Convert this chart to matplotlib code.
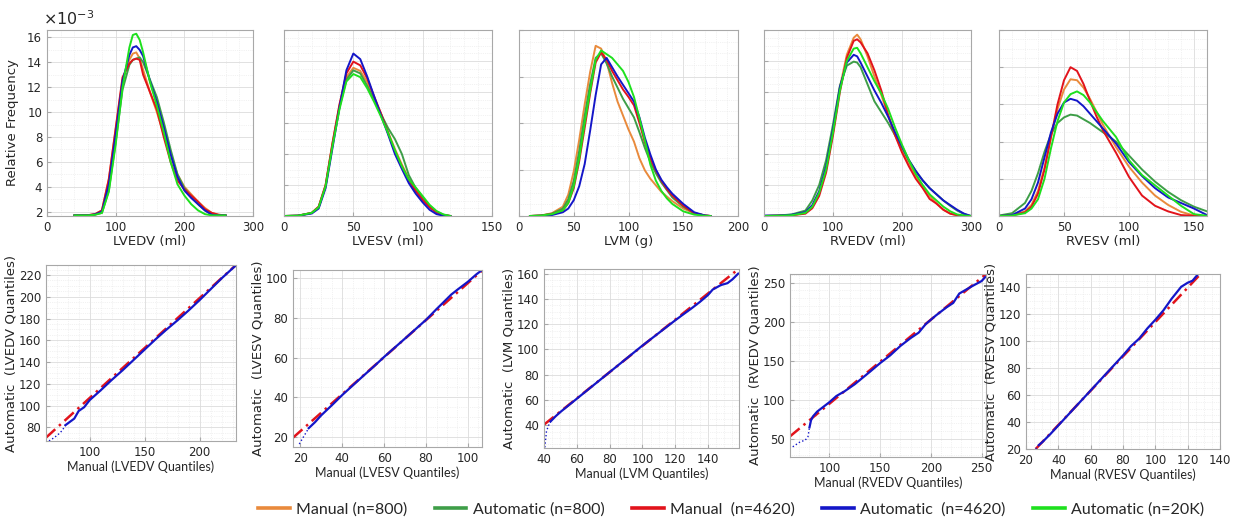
import matplotlib
matplotlib.use('Agg')
import matplotlib.pyplot as plt
from matplotlib.lines import Line2D
from matplotlib.ticker import MultipleLocator, AutoMinorLocator

# ---------------- data: top row (relative frequency, x1e-3) ----------------
series_labels = ['Manual (n=800)', 'Automatic (n=800)', 'Manual  (n=4620)',
                 'Automatic  (n=4620)', 'Automatic (n=20K)']
colors = ['#E98A3C', '#3E9E48', '#E2131B', '#1416C8', '#1EE01E']

lvedv_x = [40, 60, 70, 80, 90, 100, 110, 120, 125, 130, 135, 140, 150, 160, 170, 180, 190, 200, 210, 220, 230, 240, 250, 260]
lvedv_man800 = [1.7, 1.72, 1.8, 2.1, 4.6, 8.6, 12.6, 14.2, 14.7, 14.8, 14.3, 13.4, 11.6, 10.0, 8.2, 6.6, 5.0, 4.0, 3.4, 2.8, 2.3, 1.9, 1.75, 1.7]
lvedv_auto800 = [1.7, 1.7, 1.76, 1.9, 3.7, 7.6, 11.8, 13.8, 14.2, 14.3, 14.4, 14.0, 12.6, 11.2, 9.2, 7.0, 5.0, 3.9, 3.2, 2.6, 2.1, 1.8, 1.7, 1.7]
lvedv_man4620 = [1.7, 1.72, 1.8, 2.1, 4.6, 8.7, 12.8, 13.9, 14.2, 14.3, 14.2, 13.0, 11.6, 10.2, 8.0, 6.0, 4.5, 3.8, 3.3, 2.8, 2.2, 1.9, 1.75, 1.7]
lvedv_auto4620 = [1.7, 1.7, 1.78, 2.0, 4.2, 8.2, 12.5, 14.6, 15.2, 15.3, 15.0, 14.5, 12.5, 10.8, 8.8, 6.6, 4.8, 3.7, 3.1, 2.6, 2.1, 1.75, 1.7, 1.7]
lvedv_auto20k = [1.7, 1.7, 1.75, 1.9, 3.6, 7.4, 12.0, 15.2, 16.2, 16.3, 15.8, 14.8, 12.4, 10.5, 8.4, 6.0, 4.2, 3.3, 2.6, 2.1, 1.8, 1.7, 1.7, 1.7]

lvesv_x = [0, 10, 20, 25, 30, 35, 40, 45, 50, 55, 60, 65, 70, 75, 80, 85, 90, 95, 100, 105, 110, 115, 120]
lvesv_man800 = [0, 0.05, 0.5, 1.5, 5.0, 11.8, 17.8, 22.4, 23.9, 23.4, 21.6, 19.0, 16.5, 13.6, 10.8, 8.3, 6.0, 4.2, 2.7, 1.5, 0.6, 0.15, 0]
lvesv_auto800 = [0, 0.05, 0.5, 1.4, 4.8, 11.5, 17.5, 22.0, 23.5, 23.0, 21.0, 18.8, 16.4, 14.2, 12.4, 10.0, 6.6, 4.5, 3.0, 1.6, 0.7, 0.2, 0]
lvesv_man4620 = [0, 0.05, 0.5, 1.5, 5.0, 11.8, 18.0, 23.0, 24.9, 24.3, 22.2, 19.3, 16.5, 13.4, 10.4, 8.0, 5.8, 4.0, 2.6, 1.4, 0.6, 0.15, 0]
lvesv_auto4620 = [0, 0.05, 0.4, 1.2, 4.5, 11.0, 17.5, 23.5, 26.2, 25.3, 22.5, 19.3, 16.2, 13.2, 10.0, 7.6, 5.3, 3.6, 2.2, 1.0, 0.3, 0.05, 0]
lvesv_auto20k = [0, 0.05, 0.5, 1.4, 4.8, 11.3, 17.2, 21.7, 22.9, 22.4, 20.6, 18.4, 16.0, 13.4, 10.6, 8.0, 5.9, 4.6, 3.2, 1.8, 0.8, 0.25, 0]

lvm_x = [10, 20, 30, 40, 45, 50, 55, 60, 65, 70, 75, 80, 85, 90, 95, 100, 105, 110, 115, 120, 125, 130, 135, 140, 150, 160, 170, 175]
lvm_man800 = [0, 0.05, 0.3, 1.0, 2.3, 4.8, 8.2, 12.0, 15.5, 18.3, 18.0, 16.6, 14.3, 12.3, 10.8, 9.3, 8.0, 6.2, 4.9, 4.0, 3.3, 2.6, 2.1, 1.6, 0.8, 0.3, 0.05, 0]
lvm_auto800 = [0, 0.05, 0.25, 0.8, 1.8, 3.8, 7.0, 10.8, 14.2, 17.0, 17.5, 16.4, 15.0, 13.8, 12.6, 11.6, 10.6, 9.0, 7.3, 5.8, 4.6, 3.6, 2.8, 2.0, 1.0, 0.3, 0.05, 0]
lvm_man4620 = [0, 0.05, 0.2, 0.6, 1.4, 3.0, 5.9, 9.5, 13.2, 16.5, 17.6, 16.8, 15.6, 14.6, 13.6, 12.8, 11.9, 10.0, 7.9, 6.2, 4.9, 3.8, 2.9, 2.2, 1.1, 0.3, 0.05, 0]
lvm_auto4620 = [0, 0.02, 0.1, 0.4, 0.8, 1.7, 3.2, 5.6, 9.2, 13.0, 16.3, 17.0, 16.0, 15.0, 14.1, 13.2, 12.3, 10.6, 8.4, 6.6, 5.0, 3.9, 3.1, 2.4, 1.3, 0.4, 0.05, 0]
lvm_auto20k = [0, 0.05, 0.2, 0.6, 1.4, 3.2, 6.2, 10.0, 13.5, 16.8, 17.8, 17.4, 17.0, 16.3, 15.6, 14.4, 12.8, 10.5, 8.1, 5.5, 3.8, 2.7, 1.9, 1.3, 0.5, 0.15, 0.02, 0]

rvedv_x = [0, 20, 40, 60, 70, 80, 90, 100, 110, 120, 130, 135, 140, 150, 160, 170, 180, 190, 200, 210, 220, 230, 240, 250, 260, 270, 280, 290, 300]
rvedv_man800 = [0, 0.02, 0.05, 0.2, 0.6, 1.5, 3.0, 5.4, 8.3, 10.4, 11.5, 11.7, 11.4, 10.3, 9.0, 7.8, 6.5, 5.3, 4.2, 3.4, 2.6, 1.9, 1.3, 0.8, 0.4, 0.15, 0.05, 0, 0]
rvedv_auto800 = [0, 0.03, 0.1, 0.35, 1.0, 2.0, 3.6, 5.9, 8.4, 9.7, 9.96, 9.9, 9.6, 8.5, 7.4, 6.7, 6.0, 5.2, 4.4, 3.6, 2.9, 2.3, 1.8, 1.4, 1.0, 0.65, 0.35, 0.12, 0]
rvedv_man4620 = [0, 0.02, 0.05, 0.15, 0.5, 1.3, 2.8, 5.2, 8.0, 10.2, 11.3, 11.4, 11.2, 10.5, 9.4, 8.1, 6.5, 5.2, 4.1, 3.2, 2.4, 1.8, 1.1, 0.8, 0.4, 0.15, 0.05, 0, 0]
rvedv_auto4620 = [0.03, 0.03, 0.08, 0.25, 0.7, 1.6, 3.2, 5.6, 8.3, 9.9, 10.4, 10.3, 9.9, 9.0, 8.1, 7.3, 6.4, 5.4, 4.5, 3.6, 2.9, 2.3, 1.8, 1.4, 1.0, 0.7, 0.4, 0.15, 0]
rvedv_auto20k = [0, 0.02, 0.05, 0.2, 0.6, 1.5, 3.0, 5.4, 8.1, 10.0, 10.8, 10.85, 10.5, 9.6, 8.7, 7.9, 6.9, 5.7, 4.6, 3.6, 2.7, 2.0, 1.4, 1.0, 0.6, 0.3, 0.1, 0.03, 0]

rvesv_x = [0, 10, 20, 25, 30, 35, 40, 45, 50, 55, 60, 65, 70, 75, 80, 90, 100, 110, 120, 130, 140, 150, 160]
rvesv_man800 = [0, 0.07, 0.5, 1.2, 2.7, 5.2, 8.5, 11.5, 13.6, 14.7, 14.6, 13.8, 12.6, 11.2, 9.8, 7.4, 5.3, 3.6, 2.2, 1.2, 0.45, 0.05, 0]
rvesv_auto800 = [0.05, 0.3, 1.4, 2.7, 4.6, 6.9, 8.8, 10.0, 10.6, 10.9, 10.8, 10.4, 10.0, 9.5, 9.0, 8.0, 6.5, 5.0, 3.7, 2.6, 1.7, 1.0, 0.5]
rvesv_man4620 = [0, 0.05, 0.4, 1.0, 2.4, 5.0, 8.5, 12.0, 14.6, 16.0, 15.6, 14.2, 12.4, 10.7, 9.2, 6.8, 4.2, 2.2, 1.1, 0.5, 0.1, 0.02, 0]
rvesv_auto4620 = [0, 0.1, 0.8, 1.8, 3.6, 6.3, 9.0, 11.0, 12.2, 12.6, 12.4, 11.8, 11.0, 10.2, 9.4, 7.8, 5.8, 4.3, 3.0, 2.0, 1.4, 0.8, 0.1]
rvesv_auto20k = [0, 0.05, 0.3, 0.8, 1.8, 4.0, 7.3, 10.2, 12.2, 13.1, 13.4, 13.0, 12.2, 11.2, 10.2, 8.5, 6.0, 4.4, 3.3, 2.2, 1.1, 0.2, 0.02]

# ---------------- data: bottom row (QQ plots, automatic vs manual) ----------------
lvedv_q_manual = [63, 67, 71, 75, 78, 82, 86, 90, 95, 100, 110, 120, 130, 140, 150, 160, 170, 180, 190, 200, 210, 220, 233]
lvedv_q_auto = [67.5, 70, 73, 77, 82, 85, 88, 95, 98.5, 105, 114, 123.5, 132.5, 142, 151.5, 161, 170, 178.5, 187.5, 197, 207, 217, 229]
lvedv_ref_x = [60.3, 233]
lvedv_ref_y = [70.5, 229.2]

lvesv_q_manual = [19.5, 22, 24, 27, 30, 35, 40, 45, 50, 55, 60, 70, 80, 85, 88, 92, 95, 100, 104, 106.5]
lvesv_q_auto = [16.5, 21, 24.5, 27.5, 31, 36, 41.2, 46, 50.8, 55.5, 60.4, 69.7, 79.1, 84.5, 87.6, 91.8, 94.3, 98.3, 102, 104]
lvesv_ref_x = [16.5, 106.7]
lvesv_ref_y = [19.7, 103.9]

lvm_q_manual = [40.5, 41.5, 42.5, 44, 47, 50, 60, 70, 80, 90, 100, 110, 120, 125, 130, 135, 140, 143, 148, 152, 155, 158.5]
lvm_q_auto = [22.5, 35, 39, 43, 47, 50.5, 61, 71.5, 82, 92.5, 103, 113, 123, 127.8, 132.5, 137.5, 143, 147.5, 151, 152.5, 155.5, 160]
lvm_ref_x = [40, 159]
lvm_ref_y = [40.5, 164]

rvedv_q_manual = [64, 72, 76, 79, 80.5, 82, 84, 88, 95, 100, 107, 115, 125, 140, 150, 160, 170, 180, 188, 195, 205, 215, 222, 228, 240, 250, 253.5]
rvedv_q_auto = [40, 47, 48, 53, 65, 74, 79, 85, 92, 97, 105, 111, 120, 136, 147, 157, 169, 179, 186, 197, 208, 218, 224, 236, 245, 252, 257]
rvedv_ref_x = [61.3, 254.3]
rvedv_ref_y = [53.4, 261]

rvesv_q_manual = [26, 28, 30, 35, 40, 50, 60, 70, 80, 85, 90, 95, 100, 105, 110, 113, 116, 120, 123, 126.5]
rvesv_q_auto = [20, 23, 25, 31, 37.5, 50.5, 63.5, 76.5, 89.5, 96.5, 102, 109.5, 116, 123, 131.5, 136, 140.5, 143.5, 145, 150]
rvesv_ref_x = [26, 128]
rvesv_ref_y = [20, 150]

names = ['LVEDV', 'LVESV', 'LVM', 'RVEDV', 'RVESV']
units = ['ml', 'ml', 'g', 'ml', 'ml']

top_data = [
    (lvedv_x, [lvedv_man800, lvedv_auto800, lvedv_man4620, lvedv_auto4620, lvedv_auto20k]),
    (lvesv_x, [lvesv_man800, lvesv_auto800, lvesv_man4620, lvesv_auto4620, lvesv_auto20k]),
    (lvm_x, [lvm_man800, lvm_auto800, lvm_man4620, lvm_auto4620, lvm_auto20k]),
    (rvedv_x, [rvedv_man800, rvedv_auto800, rvedv_man4620, rvedv_auto4620, rvedv_auto20k]),
    (rvesv_x, [rvesv_man800, rvesv_auto800, rvesv_man4620, rvesv_auto4620, rvesv_auto20k]),
]
qq_data = [
    (lvedv_q_manual, lvedv_q_auto, lvedv_ref_x, lvedv_ref_y),
    (lvesv_q_manual, lvesv_q_auto, lvesv_ref_x, lvesv_ref_y),
    (lvm_q_manual, lvm_q_auto, lvm_ref_x, lvm_ref_y),
    (rvedv_q_manual, rvedv_q_auto, rvedv_ref_x, rvedv_ref_y),
    (rvesv_q_manual, rvesv_q_auto, rvesv_ref_x, rvesv_ref_y),
]

# ---------------- layout / style ----------------
W, H = 1235, 518
fig = plt.figure(figsize=(W / 100, H / 100), dpi=100)

def box(l, r, t, b):
    return [l / W, 1 - b / H, (r - l) / W, (b - t) / H]

top_boxes = [box(47, 253, 30, 216), box(284, 492, 30, 216), box(519, 738, 30, 216),
             box(764, 971, 30, 216), box(999, 1207, 30, 216)]
bot_boxes = [box(46, 236, 265, 441), box(293, 482, 270, 447), box(544, 739, 269, 448),
             box(790, 986, 274, 457), box(1026, 1220, 274, 449)]

top_xlim = [(0, 300), (0, 150), (0, 200), (0, 300), (0, 160)]
top_xmajor = [100, 50, 50, 100, 50]
top_xminor = [20, 10, 10, 20, 10]
top_ylim = [(1.65, 16.6), (0, 30), (0, 20), (0, 12), (0, 20)]
top_ymajor = [2, 5, 5, 2, 4]

bot_xlim = [(60.3, 233), (16.5, 106.7), (40, 159), (61.3, 254.3), (20, 140)]
bot_ylim = [(67.4, 229.2), (15, 104.2), (22, 163.7), (27, 261), (20, 150)]
bot_xmajor = [50, 20, 20, 50, 20]
bot_ymajor = [20, 20, 20, 50, 20]
n_sparse = [4, 2, 3, 4, 1]

frame_col = '#a8a8a8'
grid_major = dict(color='#dcdcdc', lw=0.6, ls='-')
grid_minor = dict(color='#e6e6e6', lw=0.5, ls=':')
tick_fs = 8.5
txt_col = '#262626'


def style_axes(ax):
    for s in ax.spines.values():
        s.set_color(frame_col)
        s.set_linewidth(0.8)
    ax.tick_params(which='both', direction='in', colors=frame_col,
                   labelcolor=txt_col, labelsize=tick_fs, length=3)
    ax.tick_params(which='minor', length=0)
    ax.grid(True, which='major', **grid_major)
    ax.grid(True, which='minor', **grid_minor)
    ax.set_axisbelow(True)


for i in range(5):
    ax = fig.add_axes(top_boxes[i])
    xs, ys_list = top_data[i]
    for ys, c in zip(ys_list, colors):
        ax.plot(xs, ys, color=c, lw=1.4, solid_joinstyle='round')
    ax.set_xlim(*top_xlim[i])
    ax.set_ylim(*top_ylim[i])
    ax.xaxis.set_major_locator(MultipleLocator(top_xmajor[i]))
    ax.xaxis.set_minor_locator(MultipleLocator(top_xminor[i]))
    ax.yaxis.set_major_locator(MultipleLocator(top_ymajor[i]))
    ax.yaxis.set_minor_locator(AutoMinorLocator(2 if i == 0 else 4))
    style_axes(ax)
    if i > 0:
        ax.set_yticklabels([])
    else:
        ax.set_ylabel('Relative Frequency', fontsize=9.5, color=txt_col, labelpad=6)
        ax.text(-0.02, 1.01, r'$\times10^{-3}$', transform=ax.transAxes,
                fontsize=11.5, color=txt_col, ha='left', va='bottom')
    ax.set_xlabel(f'{names[i]} ({units[i]})', fontsize=9.5, color=txt_col, labelpad=1)

for i in range(5):
    ax = fig.add_axes(bot_boxes[i])
    qx, qy, rx, ry = qq_data[i]
    ax.plot(rx, ry, color='#E2131B', lw=1.8, ls=(0, (5, 2, 1, 2)))
    k = n_sparse[i]
    ax.plot(qx[:k + 1], qy[:k + 1], color='#1416C8', lw=1.0, ls=':')
    ax.plot(qx[k:], qy[k:], color='#1416C8', lw=1.6)
    ax.set_xlim(*bot_xlim[i])
    ax.set_ylim(*bot_ylim[i])
    ax.xaxis.set_major_locator(MultipleLocator(bot_xmajor[i]))
    ax.yaxis.set_major_locator(MultipleLocator(bot_ymajor[i]))
    ax.xaxis.set_minor_locator(AutoMinorLocator(5 if bot_xmajor[i] == 50 else 4))
    ax.yaxis.set_minor_locator(AutoMinorLocator(5 if bot_ymajor[i] == 50 else 4))
    style_axes(ax)
    ax.set_ylabel(f'Automatic  ({names[i]} Quantiles)', fontsize=9.5, color=txt_col, labelpad=1)
    ax.set_xlabel(f'Manual ({names[i]} Quantiles)', fontsize=9, color=txt_col,
                  labelpad=1, family='Lato')

handles = [Line2D([], [], color=c, lw=2.6) for c in colors]
fig.legend(handles, series_labels, loc='center', bbox_to_anchor=(0.592, 0.017),
           ncol=5, frameon=False, prop={'family': 'Lato', 'size': 11.5},
           handlelength=2.0, handletextpad=0.4, columnspacing=1.7,
           labelcolor=txt_col, borderaxespad=0, borderpad=0)

fig.savefig('out.png', dpi=100)
